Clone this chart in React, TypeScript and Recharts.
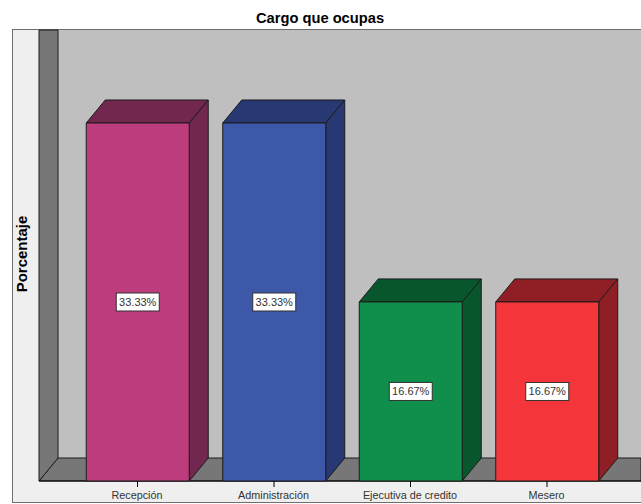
import { Bar, BarChart, LabelList, XAxis, YAxis } from "recharts";

const categories = ["Recepción", "Administración", "Ejecutiva de credito", "Mesero"];
const percentages = [33.33, 33.33, 16.67, 16.67];
const frontColors = ["#BC3C7E", "#3D57A9", "#0F8F4B", "#F4363B"];
const sideColors = ["#72274F", "#273872", "#07562C", "#8F1F24"];

const data = categories.map((name, i) => ({ name, value: percentages[i] }));

const WIDTH = 641;
const HEIGHT = 504;
const PLOT_LEFT = 39;
const PLOT_TOP = 29;
const BASELINE = 481;
const DEPTH_X = 19;
const DEPTH_Y = 23;
const EDGE = "#1c1c1c";

// extruded bar: front face, then top and right side
const Bar3D = (props: any) => {
  const { x, y, width, height, index } = props;
  const right = x + width;
  const bottom = y + height;
  const side = sideColors[index];
  return (
    <g stroke={EDGE} strokeWidth={1} strokeLinejoin="round">
      <polygon
        points={`${x},${y} ${x + DEPTH_X},${y - DEPTH_Y} ${right + DEPTH_X},${y - DEPTH_Y} ${right},${y}`}
        fill={side}
      />
      <polygon
        points={`${right},${y} ${right + DEPTH_X},${y - DEPTH_Y} ${right + DEPTH_X},${bottom - DEPTH_Y} ${right},${bottom}`}
        fill={side}
      />
      <rect x={x} y={y} width={width} height={height} fill={frontColors[index]} />
    </g>
  );
};

const ValueBox = (props: any) => {
  const { x, y, width, height, value } = props;
  const cx = x + width / 2;
  const cy = y + height / 2;
  return (
    <g>
      <rect x={cx - 21.5} y={cy - 9} width={43} height={18} fill="#ffffff" stroke="#333333" strokeWidth={1} />
      <text
        x={cx}
        y={cy + 4}
        textAnchor="middle"
        fontFamily="Liberation Sans"
        fontSize={11}
        fill="#333333"
      >
        {`${value.toFixed(2)}%`}
      </text>
    </g>
  );
};

// tick mark and category name drawn together so both stay above the frame
const CategoryTick = (props: any) => {
  const { x, payload } = props;
  return (
    <g>
      <line x1={x} x2={x} y1={BASELINE} y2={BASELINE + 6} stroke="#000000" />
      <text
        x={x - 0.5}
        y={BASELINE + 18}
        textAnchor="middle"
        fontFamily="Liberation Sans"
        fontSize={10.8}
        fill="#333333"
      >
        {payload.value}
      </text>
    </g>
  );
};

// frame, back wall, left wall and floor sit behind the bars
const Room = () => (
  <g>
    <rect x={12.5} y={29.5} width={WIDTH} height={473} fill="#EFEFEF" stroke="#6e6e6e" />
    <rect x={PLOT_LEFT} y={PLOT_TOP + 1} width={WIDTH - PLOT_LEFT} height={BASELINE - PLOT_TOP - 1} fill="#BFBFBF" />
    <polygon
      points={`${PLOT_LEFT},${BASELINE} ${PLOT_LEFT + DEPTH_X},${BASELINE - DEPTH_Y} ${WIDTH},${BASELINE - DEPTH_Y} ${WIDTH},${BASELINE}`}
      fill="#777777"
      stroke={EDGE}
    />
    <polygon
      points={`${PLOT_LEFT},${PLOT_TOP + 1} ${PLOT_LEFT + DEPTH_X},${PLOT_TOP + 1} ${PLOT_LEFT + DEPTH_X},${BASELINE - DEPTH_Y} ${PLOT_LEFT},${BASELINE}`}
      fill="#777777"
      stroke={EDGE}
    />
    <line x1={PLOT_LEFT} x2={WIDTH} y1={BASELINE} y2={BASELINE} stroke="#000000" />
    <text
      x={320}
      y={23}
      textAnchor="middle"
      fontFamily="Liberation Sans"
      fontWeight="bold"
      fontSize={14.7}
      fill="#000000"
    >
      Cargo que ocupas
    </text>
    <text
      transform="translate(27,254) rotate(-90)"
      textAnchor="middle"
      fontFamily="Liberation Sans"
      fontWeight="bold"
      fontSize={15}
      fill="#000000"
    >
      Porcentaje
    </text>
  </g>
);

export default function App() {
  return (
    <div style={{ position: "absolute", left: 0, top: 0, width: WIDTH, height: HEIGHT }}>
      <BarChart
        width={WIDTH}
        height={HEIGHT}
        data={data}
        margin={{ top: PLOT_TOP, right: 0, left: PLOT_LEFT, bottom: 0 }}
      >
        <Room />
        <XAxis
          dataKey="name"
          height={HEIGHT - BASELINE}
          axisLine={false}
          tickLine={false}
          interval={0}
          padding={{ left: 30.25, right: 25.75 }}
          tick={<CategoryTick />}
        />
        <YAxis hide width={0} domain={[0, 42.08]} />
        <Bar dataKey="value" barSize={103} shape={<Bar3D />} isAnimationActive={false}>
          <LabelList dataKey="value" content={<ValueBox />} />
        </Bar>
      </BarChart>
    </div>
  );
}
